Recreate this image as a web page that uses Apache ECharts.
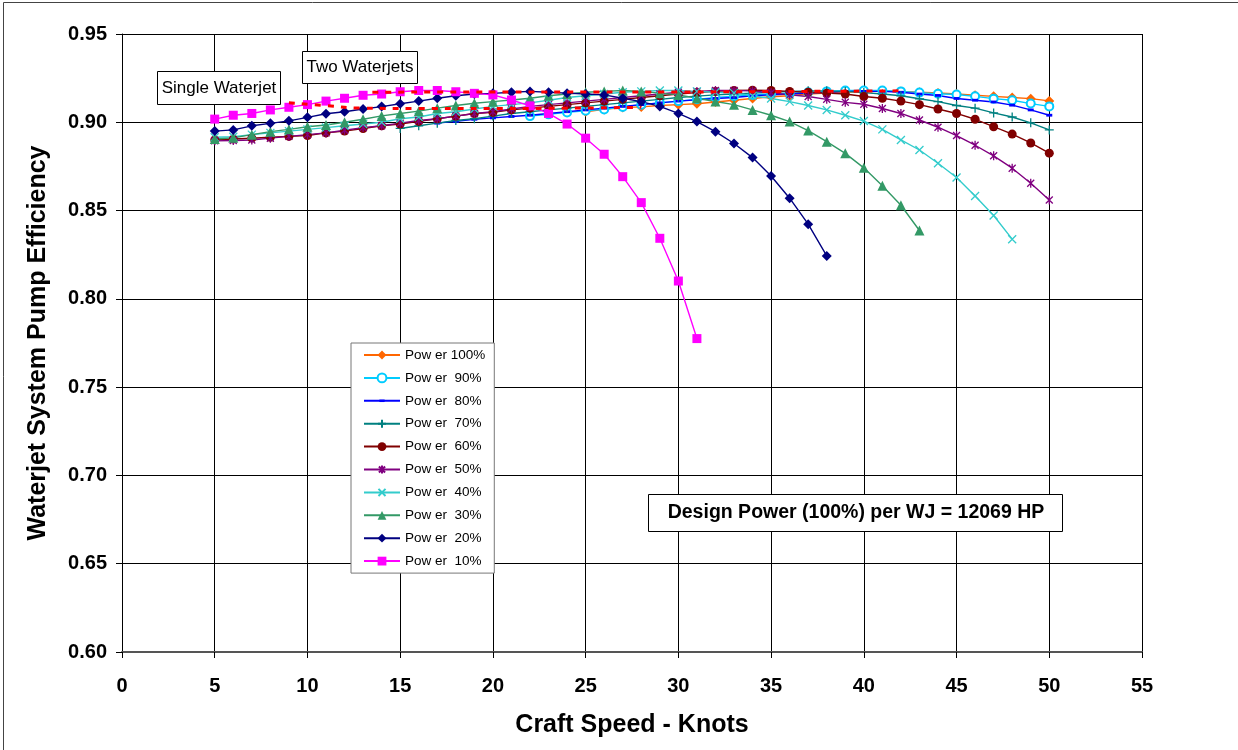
<!DOCTYPE html>
<html>
<head>
<meta charset="utf-8">
<title>Waterjet System Pump Efficiency</title>
<script src="https://cdn.jsdelivr.net/npm/echarts@6/dist/echarts.min.js"></script>
<style>
  html, body { margin: 0; padding: 0; background: #ffffff; }
  #chart { width: 1238px; height: 750px; }
</style>
</head>
<body>
<div id="chart"></div>
<script>
// Craft speed in knots (shared x values for every power curve)
const knots = [5,6,7,8,9,10,11,12,13,14,15,16,17,18,19,20,21,22,23,24,25,26,27,28,29,30,
               31,32,33,34,35,36,37,38,39,40,41,42,43,44,45,46,47,48,49,50];

// Pump efficiency per power setting, aligned with knots (null = not run at that speed)
const power100 = [null,null,null,null,null,null,null,null,null,null,null,null,null,null,null,null,null,null,null,null,
  0.9060,0.9073,0.9084,0.9087,0.9095,0.9100,0.9105,0.9115,0.9125,0.9135,0.9145,0.9150,0.9160,0.9165,0.9170,0.9175,
  0.9178,0.9175,0.9170,0.9166,0.9160,0.9153,0.9147,0.9140,0.9134,0.9121];
const power90 = [null,null,null,null,null,null,null,null,null,null,null,null,null,null,null,null,null,
  0.9035,0.9045,0.9056,0.9065,0.9073,0.9087,0.9100,0.9110,0.9120,0.9130,0.9140,0.9148,0.9155,0.9160,0.9165,0.9170,
  0.9175,0.9180,0.9180,0.9180,0.9175,0.9168,0.9162,0.9157,0.9147,0.9134,0.9125,0.9106,0.9090];
const power80 = [null,null,null,null,null,null,null,null,null,null,null,null,
  0.8995,0.9005,0.9017,0.9025,0.9033,0.9040,0.9050,0.9060,0.9070,0.9080,0.9090,0.9100,0.9110,0.9120,0.9128,0.9135,
  0.9140,0.9150,0.9155,0.9160,0.9165,0.9170,0.9175,0.9175,0.9175,0.9170,0.9160,0.9152,0.9135,0.9125,0.9115,0.9097,
  0.9070,0.9040];
const power70 = [null,null,null,null,null,null,null,null,null,null,
  0.8965,0.8980,0.8995,0.9010,0.9020,0.9035,0.9050,0.9060,0.9070,0.9080,0.9090,0.9100,0.9110,0.9120,0.9130,0.9140,
  0.9148,0.9155,0.9160,0.9165,0.9170,0.9175,0.9178,0.9178,0.9175,0.9168,0.9160,0.9150,0.9133,0.9117,0.9095,0.9080,
  0.9053,0.9030,0.8997,0.8957];
const power60 = [0.8900,0.8905,0.8910,0.8915,0.8920,0.8925,0.8940,0.8950,0.8965,0.8980,0.8990,0.9005,0.9020,0.9035,
  0.9050,0.9056,0.9070,0.9080,0.9090,0.9100,0.9110,0.9120,0.9130,0.9140,0.9150,0.9160,0.9168,0.9175,0.9180,0.9182,
  0.9180,0.9175,0.9170,0.9165,0.9160,0.9146,0.9136,0.9120,0.9100,0.9075,0.9050,0.9017,0.8975,0.8933,0.8883,0.8825];
const power50 = [0.8895,0.8897,0.8900,0.8910,0.8920,0.8930,0.8940,0.8955,0.8970,0.8980,0.8995,0.9010,0.9020,0.9035,
  0.9050,0.9060,0.9075,0.9090,0.9100,0.9110,0.9120,0.9130,0.9140,0.9150,0.9160,0.9170,0.9175,0.9180,0.9180,0.9178,
  0.9167,0.9155,0.9146,0.9130,0.9113,0.9102,0.9078,0.9050,0.9013,0.8972,0.8925,0.8870,0.8810,0.8740,0.8655,0.8560];
const power40 = [0.8915,0.8918,0.8930,0.8940,0.8950,0.8960,0.8970,0.8980,0.8990,0.9000,0.9020,0.9030,0.9050,0.9060,
  0.9075,0.9090,0.9100,0.9110,0.9125,0.9140,0.9150,0.9160,0.9170,0.9175,0.9180,0.9180,0.9175,0.9170,0.9166,0.9150,
  0.9135,0.9117,0.9095,0.9070,0.9040,0.9007,0.8960,0.8900,0.8843,0.8768,0.8687,0.8583,0.8472,0.8338,null,null];
const power30 = [0.8905,0.8912,0.8930,0.8947,0.8960,0.8975,0.8985,0.9000,0.9017,0.9036,0.9050,0.9063,0.9080,0.9095,
  0.9108,0.9117,0.9126,0.9136,0.9150,0.9160,0.9170,0.9175,0.9180,0.9175,0.9165,0.9155,0.9136,0.9118,0.9100,0.9070,
  0.9040,0.9004,0.8953,0.8890,0.8824,0.8742,0.8640,0.8530,0.8387,null,null,null,null,null,null,null];
const power20 = [0.8950,0.8957,0.8980,0.8994,0.9008,0.9028,0.9048,0.9060,0.9075,0.9089,0.9105,0.9120,0.9136,0.9150,
  0.9160,0.9164,0.9170,0.9175,0.9170,0.9165,0.9160,0.9155,0.9136,0.9117,0.9090,0.9050,0.9004,0.8947,0.8880,0.8800,
  0.8696,0.8570,0.8423,0.8243,null,null,null,null,null,null,null,null,null,null,null,null];
const power10 = [0.9018,0.9040,0.9050,0.9070,0.9085,0.9100,0.9120,0.9136,0.9153,0.9160,0.9173,0.9180,0.9180,0.9173,
  0.9164,0.9155,0.9126,0.9093,0.9050,0.8990,0.8910,0.8819,0.8692,0.8545,0.8343,0.8101,0.7775,
  null,null,null,null,null,null,null,null,null,null,null,null,null,null,null,null,null,null,null];

// Operating lines (dashed red)
const singleSpeed = [9, 11, 13, 16, 20, 24, 28];
const singleEff   = [0.9110, 0.9095, 0.9080, 0.9078, 0.9078, 0.9080, 0.9085];
const twoSpeed    = [13.5, 20, 25, 30, 35, 42];
const twoEff      = [0.9170, 0.9172, 0.9172, 0.9172, 0.9174, 0.9178];

const yTicks = ['0.60','0.65','0.70','0.75','0.80','0.85','0.90','0.95'];

const seriesNames = ['Pow er 100%','Pow er  90%','Pow er  80%','Pow er  70%','Pow er  60%',
                     'Pow er  50%','Pow er  40%','Pow er  30%','Pow er  20%','Pow er  10%'];

// Stroke-only marker shapes (corner moves keep the 10x10 box when scaled)
const plusPath  = 'path://M0 0 M10 10 M5 0.5 L5 9.5 M0.5 5 L9.5 5';
const crossPath = 'path://M0 0 M10 10 M1 1 L9 9 M9 1 L1 9';
const starPath  = 'path://M0 0 M10 10 M1.5 1.5 L8.5 8.5 M8.5 1.5 L1.5 8.5 M5 0.5 L5 9.5';
// Short horizontal bar marker
const dashPath  = 'path://M0 0 M10 10 M2 3.6 L8 3.6 L8 6.4 L2 6.4 Z';

const styles = [
  { data: power100, color: '#FF6600', symbol: 'diamond', size: 10 },
  { data: power90,  color: '#00CCFF', symbol: 'emptyCircle', size: 8, stroke: 1.5 },
  { data: power80,  color: '#0000FF', symbol: dashPath, size: 10 },
  { data: power70,  color: '#008080', symbol: plusPath, size: 10, stroke: 1.3 },
  { data: power60,  color: '#800000', symbol: 'circle', size: 9 },
  { data: power50,  color: '#800080', symbol: starPath, size: 10, stroke: 1.3 },
  { data: power40,  color: '#33CCCC', symbol: crossPath, size: 10, stroke: 1.3 },
  { data: power30,  color: '#339966', symbol: 'triangle', size: 10 },
  { data: power20,  color: '#000080', symbol: 'diamond', size: 10 },
  { data: power10,  color: '#FF00FF', symbol: 'rect', size: 9 }
];

const strokeShapes = [plusPath, crossPath, starPath];

const series = styles.map((s, i) => ({
  name: seriesNames[i],
  type: 'line',
  data: knots.map((k, j) => [k, s.data[j]]),
  connectNulls: false,
  symbol: s.symbol,
  symbolSize: s.size,
  showAllSymbol: true,
  lineStyle: { color: s.color, width: 1.4 },
  itemStyle: strokeShapes.indexOf(s.symbol) >= 0
    ? { color: s.color, borderColor: s.color, borderWidth: s.stroke }
    : { color: s.color, borderColor: s.color, borderWidth: s.stroke || 0 },
  emphasis: { disabled: true },
  z: 2
}));

['Single Waterjet', 'Two Waterjets'].forEach((name, i) => {
  const xs = i === 0 ? singleSpeed : twoSpeed;
  const ys = i === 0 ? singleEff : twoEff;
  series.push({
    name: name,
    type: 'line',
    data: xs.map((k, j) => [k, ys[j]]),
    symbol: 'none',
    smooth: true,
    lineStyle: { color: '#FF0000', width: 3, type: [6, 7] },
    emphasis: { disabled: true },
    z: 3
  });
});

const chart = echarts.init(document.getElementById('chart'), null, { renderer: 'canvas' });

const font = 'Liberation Sans, Arial, sans-serif';

chart.setOption({
  animation: false,
  backgroundColor: '#ffffff',
  grid: { left: 122, right: 96, top: 34, bottom: 98, containLabel: false },
  xAxis: {
    type: 'value',
    min: 0, max: 55, interval: 5,
    name: 'Craft Speed - Knots',
    nameLocation: 'middle',
    nameGap: 61,
    nameTextStyle: { fontFamily: font, fontWeight: 'bold', fontSize: 25, color: '#000' },
    axisLine: { lineStyle: { color: '#555', width: 2 } },
    axisTick: { show: true, length: 6, lineStyle: { color: '#000' } },
    axisLabel: { fontFamily: font, fontWeight: 'bold', fontSize: 20, color: '#000', margin: 24 },
    splitLine: { show: true, lineStyle: { color: '#000', width: 1 } }
  },
  yAxis: {
    type: 'value',
    min: 0.60, max: 0.95, interval: 0.05,
    name: 'Waterjet System Pump Efficiency',
    nameLocation: 'middle',
    nameGap: 71,
    nameTextStyle: { fontFamily: font, fontWeight: 'bold', fontSize: 25, color: '#000' },
    axisLine: { show: true, lineStyle: { color: '#000', width: 1 } },
    axisTick: { show: true, length: 6, lineStyle: { color: '#000' } },
    axisLabel: {
      fontFamily: font, fontWeight: 'bold', fontSize: 20, color: '#000', margin: 15,
      formatter: v => yTicks[Math.round((v - 0.60) / 0.05)]
    },
    splitLine: { show: true, lineStyle: { color: '#000', width: 1 } }
  },
  legend: {
    data: seriesNames,
    orient: 'vertical',
    left: 351, top: 343,
    padding: [5, 9, 5, 12],
    itemWidth: 36, itemHeight: 11, itemGap: 8.9,
    backgroundColor: '#ffffff',
    borderColor: '#777', borderWidth: 1,
    textStyle: { fontFamily: font, fontSize: 13.5, color: '#000' },
    selectedMode: false
  },
  graphic: [
    { type: 'rect', shape: { x: 3.5, y: 2.5, width: 1400, height: 900 },
      style: { fill: 'none', stroke: '#444', lineWidth: 1 }, z: 100, silent: true },
    { type: 'rect', shape: { x: 157.5, y: 71.5, width: 123, height: 33 },
      style: { fill: '#fff', stroke: '#000', lineWidth: 1 }, z: 50 },
    { type: 'text', x: 219, y: 88, style: { text: 'Single Waterjet', fontFamily: font, fontSize: 17,
      fill: '#000', align: 'center', verticalAlign: 'middle' }, z: 51 },
    { type: 'rect', shape: { x: 302.5, y: 51.5, width: 115, height: 32 },
      style: { fill: '#fff', stroke: '#000', lineWidth: 1 }, z: 50 },
    { type: 'text', x: 360, y: 67.5, style: { text: 'Two Waterjets', fontFamily: font, fontSize: 17,
      fill: '#000', align: 'center', verticalAlign: 'middle' }, z: 51 },
    { type: 'rect', shape: { x: 648.5, y: 494.5, width: 414, height: 37 },
      style: { fill: '#fff', stroke: '#000', lineWidth: 1 }, z: 50 },
    { type: 'text', x: 856, y: 513, style: { text: 'Design Power (100%) per WJ = 12069 HP', fontFamily: font,
      fontWeight: 'bold', fontSize: 19.5, fill: '#000', align: 'center', verticalAlign: 'middle' }, z: 51 }
  ],
  series: series
});
</script>
</body>
</html>
